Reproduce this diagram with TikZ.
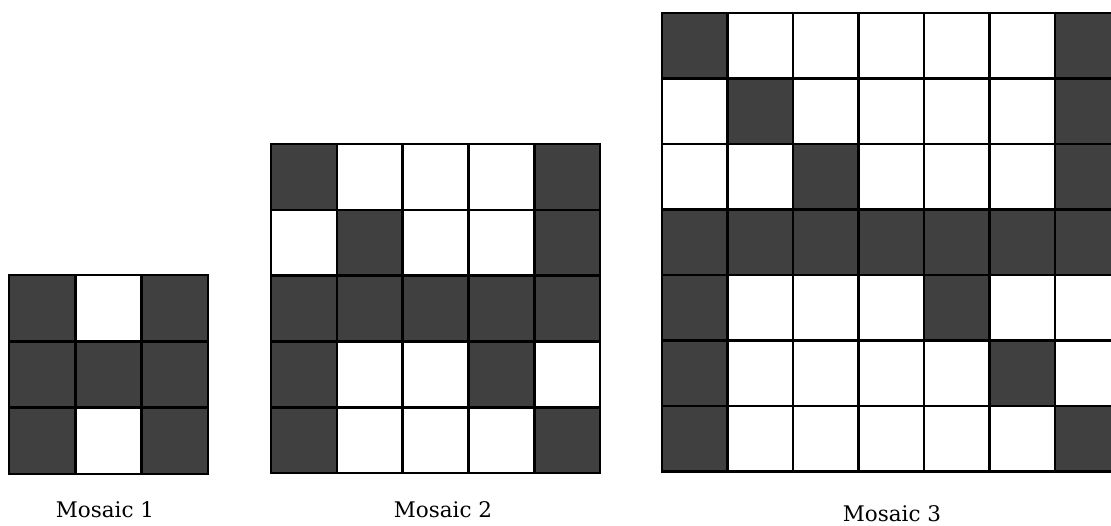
\documentclass[tikz,border=0pt]{standalone}
\usepackage{fontspec}
\setmainfont{DejaVu Serif}
\definecolor{cellgray}{HTML}{404040}
\tikzset{
  darkcell/.style={fill=cellgray},
  gridline/.style={line width=2.6pt, black, line cap=rect},
  label/.style={font=\fontsize{21.5}{26}\selectfont, anchor=base, inner sep=0pt}
}
\begin{document}
\begin{tikzpicture}[x=1pt,y=-1pt]
\useasboundingbox (0,0) rectangle (1111,525);
\clip (0,0) rectangle (1111,525);
\fill[white] (0,0) rectangle (1111,525);
% Mosaic 1
\begin{scope}[shift={(9,275)}, x=66.3pt, y=-66.3pt]
  \foreach \c/\r in {0/0,2/0,0/1,1/1,2/1,0/2,2/2}
    \fill[darkcell] (\c,\r) rectangle ++(1,1);
  \foreach \i in {0,...,3} {
    \draw[gridline] (\i,0) -- (\i,3);
    \draw[gridline] (0,\i) -- (3,\i);
  }
\end{scope}
% Mosaic 2
\begin{scope}[shift={(271,144)}, x=65.8pt, y=-65.8pt]
  \foreach \c/\r in {0/0,4/0, 1/1,4/1, 0/2,1/2,2/2,3/2,4/2, 0/3,3/3, 0/4,4/4}
    \fill[darkcell] (\c,\r) rectangle ++(1,1);
  \foreach \i in {0,...,5} {
    \draw[gridline] (\i,0) -- (\i,5);
    \draw[gridline] (0,\i) -- (5,\i);
  }
\end{scope}
% Mosaic 3
\begin{scope}[shift={(662,13)}, x=65.5pt, y=-65.5pt]
  \foreach \c/\r in {0/0,6/0, 1/1,6/1, 2/2,6/2, 0/3,1/3,2/3,3/3,4/3,5/3,6/3, 0/4,4/4, 0/5,5/5, 0/6,6/6}
    \fill[darkcell] (\c,\r) rectangle ++(1,1);
  \foreach \i in {0,...,7} {
    \draw[gridline] (\i,0) -- (\i,7);
    \draw[gridline] (0,\i) -- (7,\i);
  }
\end{scope}
\node[label] (l1) at (105,517.5) {Mosaic 1};
\node[label] (l2) at (443,517) {Mosaic 2};
\node[label] (l3) at (892,521) {Mosaic 3};
\end{tikzpicture}
\end{document}
